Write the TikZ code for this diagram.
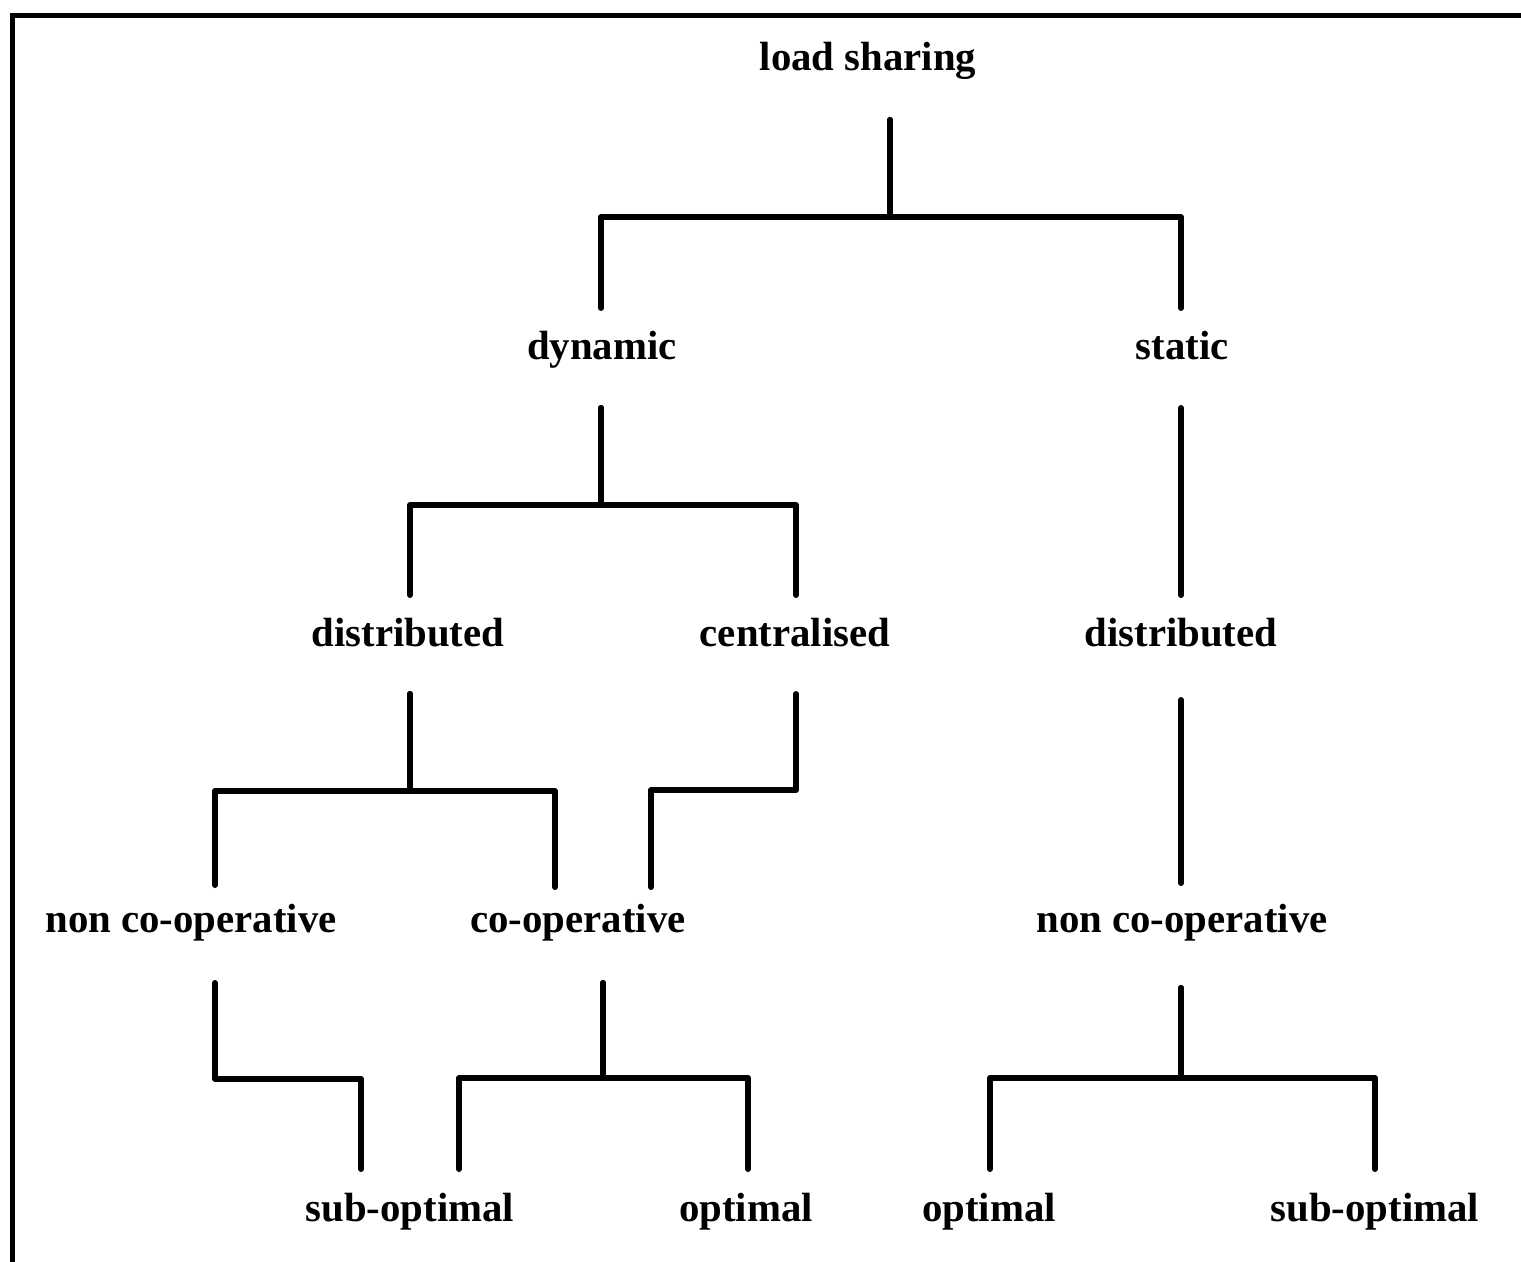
\documentclass[tikz,border=0pt]{standalone}
\usepackage{fontspec}
\setmainfont{Liberation Serif}
\begin{document}
\begin{tikzpicture}[x=0.5pt,y=-0.5pt,
  label/.style={anchor=base,inner sep=0pt,font=\bfseries\fontsize{20.4}{24}\selectfont},
  branch/.style={line width=3pt,line cap=round,line join=round},
  frame/.style={line width=2.5pt}]
\useasboundingbox (0,0) rectangle (1521,1262);
% open frame: top and left edges
\draw[frame] (10,16) -- (1521,16);
\draw[frame] (12,16) -- (12,1262);

% labels
\node[label] (ls)   at (868,71)   {load sharing};
\node[label] (dyn)  at (602,360)  {dynamic};
\node[label] (sta)  at (1182,360) {static};
\node[label] (dd)   at (408,646)  {distributed};
\node[label] (cen)  at (795,646)  {centralised};
\node[label] (sd)   at (1181,646) {distributed};
\node[label] (ncl)  at (191,932)  {non co-operative};
\node[label] (coop) at (578,932)  {co-operative};
\node[label] (ncr)  at (1182,932) {non co-operative};
\node[label] (sol)  at (410,1221) {sub-optimal};
\node[label] (opl)  at (746,1221) {optimal};
\node[label] (opr)  at (989,1221) {optimal};
\node[label] (sor)  at (1375,1221){sub-optimal};

% connector end points
\coordinate (ls-o)   at (890,120);
\coordinate (dyn-i)  at (601,308);
\coordinate (sta-i)  at (1181,308);
\coordinate (dyn-o)  at (601,408);
\coordinate (dd-i)   at (410,595);
\coordinate (cen-i)  at (796,595);
\coordinate (sta-o)  at (1181,408);
\coordinate (sd-i)   at (1181,595);
\coordinate (dd-o)   at (410,694);
\coordinate (ncl-i)  at (215,885);
\coordinate (coop-i) at (555,887);
\coordinate (cen-o)  at (796,694);
\coordinate (coop-j) at (651,887);
\coordinate (sd-o)   at (1181,700);
\coordinate (ncr-i)  at (1181,883);
\coordinate (ncl-o)  at (215,983);
\coordinate (sol-i)  at (361,1169);
\coordinate (coop-o) at (603,983);
\coordinate (sol-j)  at (459,1169);
\coordinate (opl-i)  at (748,1169);
\coordinate (ncr-o)  at (1181,988);
\coordinate (opr-i)  at (990,1169);
\coordinate (sor-i)  at (1375,1169);

% tree branches
\draw[branch] (ls-o) -- ++(0,97) -| (dyn-i);
\draw[branch] (ls-o) -- ++(0,97) -| (sta-i);
\draw[branch] (dyn-o) -- ++(0,97) -| (dd-i);
\draw[branch] (dyn-o) -- ++(0,97) -| (cen-i);
\draw[branch] (sta-o) -- (sd-i);
\draw[branch] (dd-o) -- ++(0,97) -| (ncl-i);
\draw[branch] (dd-o) -- ++(0,97) -| (coop-i);
\draw[branch] (cen-o) -- ++(0,96) -| (coop-j);
\draw[branch] (sd-o) -- (ncr-i);
\draw[branch] (ncl-o) -- ++(0,96) -| (sol-i);
\draw[branch] (coop-o) -- ++(0,95) -| (sol-j);
\draw[branch] (coop-o) -- ++(0,95) -| (opl-i);
\draw[branch] (ncr-o) -- ++(0,90) -| (opr-i);
\draw[branch] (ncr-o) -- ++(0,90) -| (sor-i);
\end{tikzpicture}
\end{document}
